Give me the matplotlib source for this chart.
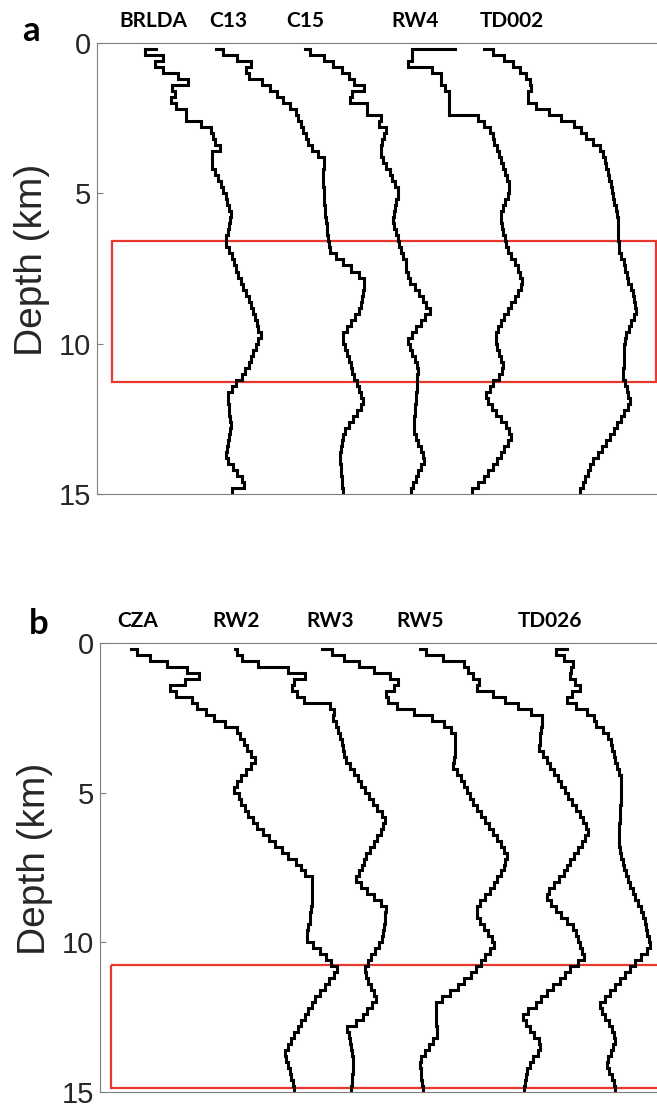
import numpy as np
import matplotlib
matplotlib.use("Agg")
import matplotlib.pyplot as plt
from matplotlib.patches import Rectangle

# Layer boundaries of the 1-D models (km); each profile = surface value + one value per layer
edges = np.round(np.arange(0.2, 15.0001, 0.2), 1)

# Panel a stations (shifted Vs, arbitrary plotting units)
stations_a = ["BRLDA", "C13", "C15", "RW4", "TD002"]
BRLDA = [165, 135, 185, 162, 185, 228, 255, 210, 218, 207, 220, 250, 250, 290, 318, 325, 330, 345, 322,
         322, 322, 330, 340, 348, 353, 360, 365, 370, 374, 372, 370, 367, 362, 362, 370, 378, 385,
         388, 395, 402, 410, 418, 425, 432, 438, 442, 447, 452, 458, 452, 445, 438, 430, 425, 415, 405,
         390, 378, 366, 367, 369, 371, 373, 375, 372, 370, 367, 364, 360, 368, 380, 393, 405, 412, 378]
C13 = [332, 352, 392, 430, 418, 425, 462, 485, 505, 520, 540, 558, 562, 570, 577, 585, 590, 603, 620,
       636, 636, 634, 634, 634, 635, 635, 636, 637, 638, 640, 643, 645, 648, 650, 653, 670, 690,
       710, 733, 748, 747, 745, 743, 740, 735, 723, 712, 700, 690, 690, 695, 700, 705, 710, 715, 720,
       727, 733, 740, 745, 738, 728, 716, 705, 693, 688, 685, 683, 680, 680, 682, 684, 685, 687, 688]
C15 = [582, 597, 635, 660, 685, 705, 720, 748, 715, 707, 755, 755, 795, 790, 810, 803, 797, 795, 795,
       800, 808, 820, 826, 835, 843, 842, 838, 834, 831, 828, 832, 837, 842, 847, 852, 858, 864,
       865, 870, 877, 890, 903, 913, 922, 933, 918, 906, 894, 882, 872, 877, 883, 890, 896, 898, 897,
       896, 895, 894, 892, 891, 890, 889, 888, 888, 893, 900, 906, 912, 916, 908, 900, 892, 885, 880]
RW4 = [1003, 882, 882, 870, 937, 962, 962, 975, 985, 985, 985, 985, 1068, 1085, 1100, 1108, 1113, 1120,
       1126, 1131, 1136, 1142, 1148, 1155, 1155, 1150, 1143, 1136, 1130, 1130, 1134, 1138, 1142, 1146,
       1150, 1160, 1170,
       1178, 1185, 1190, 1188, 1180, 1170, 1160, 1150, 1140, 1130, 1122, 1117, 1117, 1120, 1125, 1130,
       1138, 1135, 1125, 1110, 1100, 1090, 1095, 1105, 1118, 1130, 1145, 1155, 1158, 1150, 1140, 1130,
       1120, 1108, 1096, 1083, 1068, 1050]
TD002 = [1083, 1110, 1140, 1165, 1185, 1200, 1212, 1215, 1208, 1208, 1230, 1265, 1300, 1335, 1355, 1370,
         1390, 1408, 1418, 1422, 1426, 1430, 1434, 1438, 1441, 1444, 1448, 1452, 1457, 1460, 1460, 1460,
         1460, 1461, 1463, 1468, 1476,
         1478, 1483, 1488, 1494, 1500, 1504, 1507, 1509, 1503, 1496, 1489, 1482, 1478, 1477, 1477, 1476,
         1475, 1472, 1474, 1478, 1483, 1488, 1492, 1486, 1476, 1466, 1456, 1447, 1437, 1426, 1414, 1402,
         1390, 1381, 1374, 1367, 1360, 1353]

# Panel b stations
stations_b = ["CZA", "RW2", "RW3", "RW5", "TD026"]
CZA = [88, 105, 140, 188, 245, 280, 240, 197, 215, 258, 272, 298, 322, 352, 385, 395, 405, 415, 425,
       435, 425, 412, 398, 385, 378, 390, 398, 408, 418, 430, 443, 458, 475, 492, 512, 530, 552,
       565, 578, 598, 598, 598, 598, 597, 595, 592, 590, 586, 583, 583, 600, 618, 635, 650, 668, 658,
       645, 632, 618, 606, 596, 586, 576, 566, 556, 547, 538, 528, 520, 524, 529, 534, 538, 542, 546]
RW2 = [380, 385, 400, 445, 530, 578, 545, 540, 555, 575, 648, 660, 655, 665, 670, 675, 680, 685, 688,
       692, 705, 716, 726, 736, 746, 757, 768, 780, 793, 803, 798, 790, 780, 770, 760, 750, 742,
       738, 728, 720, 735, 752, 770, 790, 805, 803, 801, 799, 797, 794, 785, 775, 764, 754, 745, 748,
       755, 762, 770, 778, 765, 752, 740, 722, 696, 700, 703, 706, 709, 712, 713, 712, 710, 709, 707]
RW3 = [625, 652, 688, 730, 772, 815, 838, 828, 805, 812, 835, 885, 935, 968, 988, 1000, 1000, 999, 998,
       996, 995, 1005, 1015, 1024, 1032, 1041, 1051, 1062, 1073, 1084, 1095, 1106, 1117, 1128, 1138,
       1146, 1140,
       1136, 1128, 1118, 1108, 1097, 1084, 1071, 1060, 1060, 1070, 1080, 1092, 1104, 1110, 1098, 1085,
       1072, 1058, 1043, 1026, 1008, 985, 962, 945, 945, 946, 947, 949, 950, 938, 926, 914, 903, 902,
       904, 905, 906, 908]
RW5 = [902, 918, 965, 1025, 1035, 1050, 1068, 1060, 1105, 1140, 1178, 1212, 1245, 1244, 1242, 1240,
       1238, 1237, 1247, 1258, 1268, 1278, 1288, 1298, 1308, 1318, 1329, 1340, 1350, 1360, 1368, 1375,
       1366, 1356, 1345, 1334, 1323,
       1315, 1305, 1292, 1278, 1264, 1258, 1270, 1284, 1298, 1315, 1332, 1340, 1346, 1352, 1357, 1362,
       1346, 1324, 1308, 1294, 1276, 1258, 1242, 1226, 1205, 1192, 1198, 1210, 1222, 1235, 1240, 1232,
       1220, 1210, 1202, 1198, 1196, 1195]
TD026 = [1315, 1285, 1305, 1332, 1325, 1322, 1337, 1350, 1330, 1315, 1340, 1370, 1390, 1395, 1415, 1430,
         1438, 1442, 1446, 1450, 1455, 1460, 1467, 1468, 1468, 1467, 1466, 1465, 1464, 1463, 1462, 1461,
         1461, 1462, 1464, 1468, 1472,
         1476, 1481, 1487, 1493, 1500, 1507, 1514, 1522, 1528, 1533, 1537, 1541, 1545, 1549, 1540, 1524,
         1507, 1492, 1478, 1464, 1450, 1437, 1422, 1408, 1412, 1422, 1432, 1441, 1447, 1450, 1445, 1439,
         1430, 1428, 1433, 1440, 1446, 1450]

# depth ranges outlined in red (km)
box_a = (6.57, 11.27)
box_b = (10.76, 14.87)

profiles_a = [BRLDA, C13, C15, RW4, TD002]
profiles_b = [CZA, RW2, RW3, RW5, TD026]

# where the station names sit along x
name_x_a = [157, 367, 582, 890, 1162]
name_x_b = [107, 383, 647, 901, 1267]


def stair(vals):
    v = np.asarray(vals, dtype=float)
    x = np.concatenate([[v[0]], np.repeat(v[1:], 2)])
    y = np.concatenate([[edges[0]], np.repeat(edges, 2)[1:-1]])
    return x, y


fig = plt.figure(figsize=(6.57, 11.05), dpi=100)
ax_a = fig.add_axes([97 / 657, 1 - 494 / 1105, 560 / 657, 451 / 1105])
ax_b = fig.add_axes([100 / 657, 1 - 1092 / 1105, 557 / 657, 449 / 1105])

panels = [
    (ax_a, profiles_a, stations_a, name_x_a, box_a, 42, 1565 - 42),
    (ax_b, profiles_b, stations_b, name_x_b, box_b, 30, 1700),
]

for ax, profs, names, name_x, box, box_x0, box_w in panels:
    for p in profs:
        x, y = stair(p)
        ax.plot(x, y, color="black", lw=2.2, solid_joinstyle="miter")

    ax.add_patch(Rectangle((box_x0, box[0]), box_w, box[1] - box[0],
                           fill=False, edgecolor="#e8372c", lw=1.6))

    ax.set_xlim(0, 1568)
    ax.set_ylim(15, 0)
    ax.set_yticks([0, 5, 10, 15])
    ax.set_xticks([])
    ax.tick_params(axis="y", direction="in", length=4.5, width=0.8, color="#7f7f7f",
                   labelsize=21, labelcolor="#262626", pad=4)
    for lab in ax.get_yticklabels():
        lab.set_fontfamily("Liberation Sans")
    for side in ["left", "top", "bottom"]:
        ax.spines[side].set_color("#7f7f7f")
        ax.spines[side].set_linewidth(0.8)
    ax.spines["right"].set_visible(False)

    ax.text(-0.116, 0.52, "Depth (km)", transform=ax.transAxes, rotation=90,
            ha="center", va="center", fontsize=28, color="#262626", family="Liberation Sans")

    for nm, nx in zip(names, name_x):
        ax.text(nx, 1.035, nm, transform=ax.get_xaxis_transform(), ha="center",
                va="baseline", fontsize=15, fontweight="bold", family="Lato")

fig.text(31 / 657, 1 - 41 / 1105, "a", ha="center", va="baseline", fontsize=25,
         fontweight="bold", family="Lato")
fig.text(39 / 657, 1 - 634 / 1105, "b", ha="center", va="baseline", fontsize=25,
         fontweight="bold", family="Lato")

fig.savefig("out.png", dpi=100)
